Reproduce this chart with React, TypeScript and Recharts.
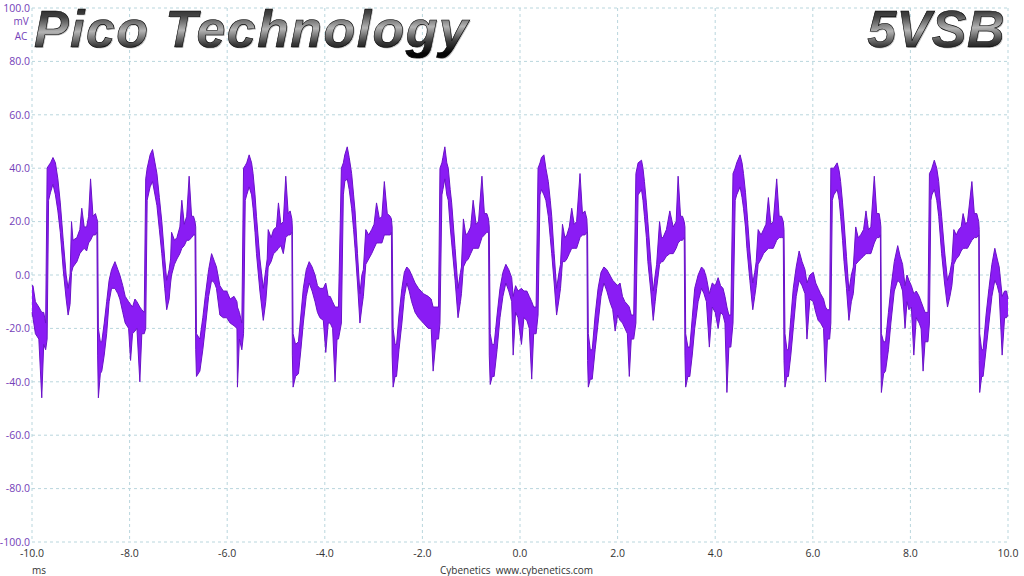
import { Area, CartesianGrid, ComposedChart, XAxis, YAxis } from 'recharts'

// time axis (ms) and the min / max envelope of the noisy trace (mV)
const timeMs = [
  -10.0, -9.98, -9.93, -9.86, -9.8, -9.76, -9.72, -9.69, -9.66, -9.62, -9.57, -9.52, -9.47, -9.42, -9.36, -9.3, -9.26, -9.22, -9.19, -9.16,
  -9.08, -9.02, -8.98, -8.93, -8.88, -8.84, -8.8, -8.75, -8.7, -8.67, -8.655, -8.64, -8.6, -8.57, -8.52, -8.47, -8.42, -8.37, -8.3, -8.24,
  -8.2, -8.14, -8.09, -8.02, -7.98, -7.94, -7.89, -7.85, -7.79, -7.75, -7.7, -7.67, -7.64, -7.58, -7.53, -7.48, -7.44, -7.39, -7.34, -7.28,
  -7.24, -7.19, -7.16, -7.14, -7.08, -7.03, -6.97, -6.93, -6.88, -6.83, -6.78, -6.73, -6.69, -6.66, -6.645, -6.63, -6.56, -6.5, -6.45, -6.38,
  -6.32, -6.26, -6.22, -6.15, -6.08, -6.01, -5.94, -5.86, -5.8, -5.79, -5.75, -5.7, -5.665, -5.63, -5.6, -5.55, -5.5, -5.47, -5.43, -5.4,
  -5.33, -5.26, -5.21, -5.18, -5.16, -5.1, -5.05, -4.99, -4.95, -4.9, -4.85, -4.8, -4.75, -4.71, -4.675, -4.665, -4.65, -4.6, -4.54, -4.49,
  -4.44, -4.38, -4.32, -4.26, -4.2, -4.15, -4.1, -4.03, -3.98, -3.93, -3.89, -3.84, -3.79, -3.75, -3.72, -3.66, -3.62, -3.59, -3.54, -3.5,
  -3.45, -3.41, -3.38, -3.33, -3.28, -3.24, -3.21, -3.16, -3.1, -3.04, -2.99, -2.94, -2.88, -2.83, -2.78, -2.72, -2.66, -2.635, -2.62, -2.6,
  -2.56, -2.53, -2.48, -2.42, -2.37, -2.32, -2.27, -2.22, -2.15, -2.08, -1.98, -1.88, -1.82, -1.78, -1.72, -1.67, -1.64, -1.6, -1.58, -1.54,
  -1.5, -1.47, -1.43, -1.4, -1.33, -1.27, -1.22, -1.2, -1.16, -1.11, -1.06, -1.01, -0.96, -0.9, -0.85, -0.78, -0.73, -0.68, -0.645, -0.63,
  -0.61, -0.57, -0.53, -0.47, -0.41, -0.35, -0.29, -0.23, -0.17, -0.14, -0.09, -0.04, 0.03, 0.08, 0.14, 0.19, 0.24, 0.28, 0.33, 0.37,
  0.41, 0.44, 0.49, 0.53, 0.58, 0.62, 0.65, 0.7, 0.75, 0.8, 0.83, 0.87, 0.92, 0.96, 1.01, 1.06, 1.11, 1.16, 1.23, 1.28,
  1.33, 1.37, 1.385, 1.4, 1.44, 1.48, 1.54, 1.6, 1.66, 1.72, 1.78, 1.84, 1.9, 1.95, 2.0, 2.05, 2.1, 2.15, 2.2, 2.24,
  2.28, 2.33, 2.375, 2.42, 2.49, 2.52, 2.55, 2.59, 2.62, 2.68, 2.73, 2.77, 2.8, 2.86, 2.9, 2.93, 3.0, 3.07, 3.14, 3.2,
  3.24, 3.29, 3.33, 3.365, 3.38, 3.395, 3.44, 3.48, 3.53, 3.58, 3.65, 3.72, 3.77, 3.82, 3.88, 3.94, 4.0, 4.06, 4.11, 4.16,
  4.2, 4.24, 4.28, 4.32, 4.365, 4.41, 4.44, 4.51, 4.55, 4.58, 4.62, 4.65, 4.71, 4.77, 4.81, 4.84, 4.88, 4.94, 4.99, 5.04,
  5.09, 5.14, 5.19, 5.26, 5.31, 5.36, 5.395, 5.41, 5.43, 5.47, 5.5, 5.55, 5.6, 5.66, 5.72, 5.78, 5.84, 5.88, 5.94, 6.01,
  6.06, 6.11, 6.16, 6.22, 6.26, 6.3, 6.345, 6.37, 6.4, 6.43, 6.5, 6.54, 6.57, 6.61, 6.64, 6.69, 6.74, 6.79, 6.83, 6.88,
  6.93, 6.98, 7.04, 7.09, 7.14, 7.19, 7.26, 7.31, 7.36, 7.385, 7.395, 7.405, 7.45, 7.49, 7.55, 7.6, 7.67, 7.74, 7.79, 7.84,
  7.89, 7.93, 7.97, 8.02, 8.07, 8.12, 8.18, 8.22, 8.26, 8.3, 8.36, 8.39, 8.42, 8.44, 8.49, 8.54, 8.58, 8.61, 8.64, 8.7,
  8.76, 8.81, 8.85, 8.89, 8.94, 8.99, 9.04, 9.08, 9.13, 9.17, 9.26, 9.31, 9.36, 9.4, 9.41, 9.42, 9.46, 9.49, 9.55, 9.61,
  9.67, 9.73, 9.78, 9.82, 9.88, 9.93, 9.97, 10.0,
]

const lowMv = [
  -14, -16, -22, -24, -46, -26, -28, -24, 28, 31, 34, 30, 24, 16, 2, -9, -15, -11, 1, 3,
  5, 8, 9, 10, 9, 12, 13, 15, 15, 16, -30, -46, -37, -36, -30, -22, -10, -5, -5, -7,
  -9, -14, -18, -20, -32, -22, -21, -20, -40, -22, -22, -20, 28, 33, 35, 30, 26, 17, 8, -5,
  -13, -9, -3, 0, 4, 6, 8, 10, 11, 13, 13, 14, 15, 15, -28, -38, -36, -28, -20, -8,
  -2, -3, -5, -15, -16, -16, -18, -19, -20, -42, -24, -28, -22, 28, 30, 33, 30, 25, 16, 8,
  -6, -17, -10, -3, 3, 5, 8, 9, 10, 11, 8, 14, 15, 15, 16, -30, -42, -38, -37, -28,
  -18, -8, -3, -6, -10, -14, -16, -17, -29, -18, -18, -20, -40, -24, -24, -18, 30, 35, 36, 32,
  25, 17, 10, -3, -18, -12, -8, 4, 6, 8, 10, 12, 12, 12, 15, 15, 15, 16, -30, -42,
  -38, -38, -28, -18, -8, -3, -6, -10, -14, -16, -18, -20, -20, -36, -24, -24, -18, 30, 32, 36,
  30, 28, 18, 12, -2, -16, -10, -7, 3, 5, 6, 8, 10, 10, 10, 14, 15, 16, 16, -30,
  -41, -38, -38, -28, -16, -8, -3, -6, -10, -30, -14, -16, -26, -16, -17, -20, -39, -22, -22, -15,
  30, 32, 30, 28, 22, 14, 8, -3, -15, -9, -5, 5, 5, 6, 8, 10, 10, 10, 14, 15,
  15, 16, -32, -42, -39, -39, -28, -18, -8, -3, -6, -10, -13, -21, -15, -17, -18, -20, -22, -38,
  -24, -24, -18, 30, 32, 28, 22, 14, 5, -6, -17, -10, -5, 4, 5, 5, 7, 8, 8, 10,
  12, 13, 13, 14, -30, -42, -38, -38, -30, -20, -10, -5, -7, -10, -27, -12, -14, -20, -14, -15,
  -18, -44, -27, -27, -18, 28, 30, 33, 29, 25, 18, 10, -2, -13, -8, -4, 4, 6, 8, 9,
  10, 10, 10, 13, 14, 14, 14, -32, -42, -38, -38, -30, -20, -8, -2, -4, -7, -24, -9, -10,
  -14, -17, -18, -20, -40, -24, -24, -18, 28, 30, 32, 28, 22, 13, 5, -5, -17, -10, -7, 4,
  5, 6, 7, 8, 8, 8, 12, 14, 14, 15, -30, -44, -37, -36, -28, -18, -6, -2, -3, -6,
  -20, -10, -13, -12, -30, -16, -18, -20, -36, -25, -25, -18, 28, 30, 32, 28, 22, 15, 8, -3,
  -12, -8, -4, 4, 6, 7, 9, 10, 10, 10, 13, 14, 14, 15, -32, -44, -38, -38, -28, -18,
  -8, -2, -4, -7, -30, -16, -16, -15,
]

const highMv = [
  -4, -4, -10, -12, -14, -14, -18, 40, 41, 42, 44, 42, 36, 27, 13, 0, -5, 0, 20, 13,
  14, 17, 25, 18, 18, 22, 36, 22, 23, 21, 20, -20, -25, -25, -18, -10, -2, 2, 5, 2,
  0, -4, -8, -10, -11, -12, -9, -10, -12, -13, -14, 36, 40, 45, 47, 42, 38, 29, 20, 6,
  -2, 2, 6, 16, 13, 14, 18, 28, 19, 22, 37, 22, 22, 20, 18, -22, -24, -16, -8, 2,
  8, 5, 3, -4, -6, -6, -9, -8, -10, -12, -14, -18, 40, 41, 42, 45, 42, 38, 30, 22,
  6, -5, 2, 6, 17, 14, 17, 18, 27, 19, 20, 37, 23, 24, 21, 18, -22, -26, -25, -15,
  -5, 2, 5, 3, 0, -4, -5, -5, -3, -8, -8, -10, -12, -12, -12, 40, 42, 45, 48, 44,
  38, 30, 24, 8, -7, 0, 2, 17, 15, 17, 19, 27, 21, 22, 35, 23, 22, 21, 18, -20,
  -26, -26, -15, -5, 1, 3, 2, 0, -3, -5, -7, -8, -9, -12, -12, -12, 40, 42, 44, 48,
  42, 40, 32, 27, 10, -5, 1, 3, 21, 15, 16, 18, 28, 19, 20, 37, 23, 23, 21, 18,
  -22, -26, -26, -15, -5, 1, 4, 2, -1, -8, -4, -6, -5, -6, -6, -8, -10, -12, -12, 40,
  42, 44, 45, 40, 35, 28, 22, 8, -5, 1, 4, 19, 14, 15, 18, 25, 19, 20, 38, 23,
  24, 21, 15, -22, -28, -28, -15, -5, 1, 3, 2, 0, -2, -3, -4, -3, -8, -10, -11, -12,
  -15, -15, 38, 42, 43, 40, 35, 27, 20, 5, -6, 0, 4, 20, 14, 14, 17, 24, 18, 20,
  37, 22, 22, 20, 18, -22, -27, -27, -16, -5, 0, 3, 2, -1, -7, -3, -4, -1, -4, -5,
  -8, -12, -15, -15, 38, 40, 42, 45, 42, 38, 31, 24, 9, -3, 1, 5, 17, 15, 17, 19,
  29, 19, 20, 36, 22, 22, 20, 17, -22, -28, -28, -16, -5, 3, 9, 5, 2, -3, 0, 1,
  -3, -5, -7, -9, -12, -13, -13, 40, 40, 40, 42, 39, 35, 27, 20, 7, -6, 0, 3, 18,
  14, 15, 17, 24, 17, 18, 37, 23, 23, 20, 18, -22, -25, -25, -14, -5, 5, 11, 7, 4,
  -4, 0, -2, -4, -7, -6, -8, -10, -12, -14, -14, 38, 39, 40, 43, 40, 35, 28, 22, 9,
  -2, 1, 5, 17, 15, 17, 18, 23, 19, 20, 35, 23, 23, 20, 17, -22, -28, -28, -15, -5,
  4, 10, 6, 3, -8, -6, -6, -9,
]

const xTicks = [-10, -8, -6, -4, -2, 0, 2, 4, 6, 8, 10]
const yTicks = [-100, -80, -60, -40, -20, 0, 20, 40, 60, 80, 100]

const rows = timeMs.map((t, i) => ({ t, band: [lowMv[i], highMv[i]] }))

const font = '"Open Sans", "Liberation Sans", sans-serif'
const fmt = (n: number) => n.toFixed(1)

export default function App() {
  return (
    <div style={{ position: 'fixed', left: 0, top: 0, width: 1024, height: 576, background: '#fff' }}>
      <ComposedChart width={1024} height={576} data={rows} margin={{ top: 8, right: 16, bottom: 0, left: 0 }}>
        <CartesianGrid stroke="#b9d6dd" strokeDasharray="3 3" />
        <XAxis
          dataKey="t"
          type="number"
          domain={[-10, 10]}
          ticks={xTicks}
          tickFormatter={fmt}
          axisLine={false}
          tickLine={false}
          tickSize={0}
          tickMargin={8}
          height={34}
          tick={{ fill: '#333', fontSize: 10.5, fontFamily: font }}
        />
        <YAxis
          type="number"
          domain={[-100, 100]}
          ticks={yTicks}
          tickFormatter={fmt}
          axisLine={false}
          tickLine={false}
          tickSize={0}
          tickMargin={2}
          width={32}
          tick={{ fill: '#7440b8', fontSize: 10.5, fontFamily: font }}
        />
        <Area
          type="linear"
          dataKey="band"
          stroke="#6a12c8"
          strokeWidth={1}
          fill="#8a1cf4"
          fillOpacity={1}
          isAnimationActive={false}
        />
      </ComposedChart>

      <svg width={1024} height={576} style={{ position: 'absolute', left: 0, top: 0, pointerEvents: 'none' }}>
        <defs>
          <linearGradient id="chrome" x1="0" y1="0" x2="0.1" y2="1">
            <stop offset="0%" stopColor="#111" />
            <stop offset="30%" stopColor="#444" />
            <stop offset="55%" stopColor="#b4b4b4" />
            <stop offset="80%" stopColor="#3a3a3a" />
            <stop offset="100%" stopColor="#050505" />
          </linearGradient>
        </defs>
        <g fontFamily='"Liberation Sans", Arial, sans-serif' fontWeight="bold" fontStyle="italic" fontSize={52}>
          <text x={35} y={48} letterSpacing={1.4} fill="#c4c4c4">Pico Technology</text>
          <text x={34} y={47} letterSpacing={1.4} fill="url(#chrome)" stroke="#000" strokeWidth={0.6}>Pico Technology</text>
          <text x={1006} y={48} textAnchor="end" letterSpacing={0.5} fill="#c4c4c4">5VSB</text>
          <text x={1005} y={47} textAnchor="end" letterSpacing={0.5} fill="url(#chrome)" stroke="#000" strokeWidth={0.6}>5VSB</text>
        </g>
        <g fontFamily={font} fontSize={10} fill="#7440b8" textAnchor="middle">
          <text x={21} y={25}>mV</text>
          <text x={21} y={40}>AC</text>
        </g>
        <g fontFamily={font} fontSize={10} fill="#333">
          <text x={32} y={574}>ms</text>
          <text x={440} y={574}>Cybenetics{'\u00a0\u00a0'}www.cybenetics.com</text>
        </g>
      </svg>
    </div>
  )
}
